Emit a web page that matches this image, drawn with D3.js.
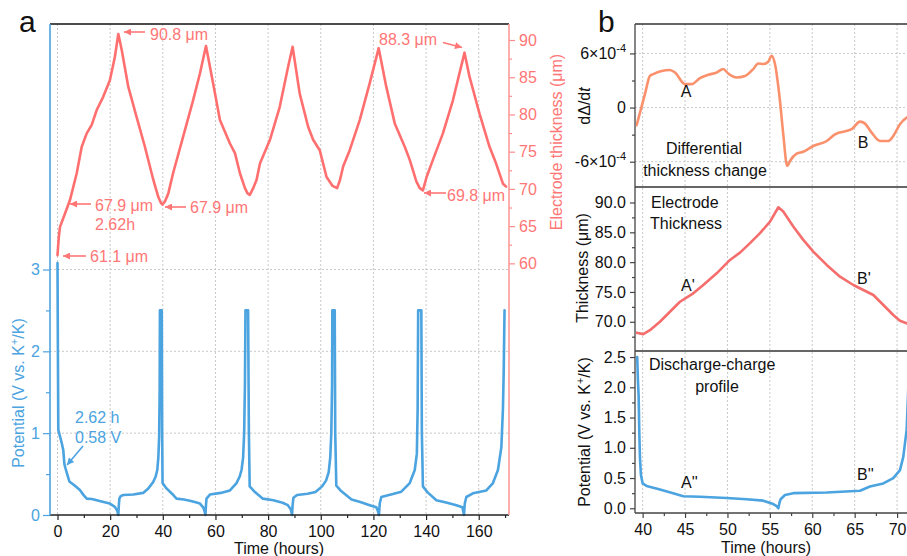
<!doctype html>
<html lang="en">
<head>
<meta charset="utf-8">
<title>Electrode thickness and potential</title>
<script src="https://d3js.org/d3.v7.min.js"></script>
<style>
  body { margin: 0; background: #fff; }
  svg { font-family: "Liberation Sans", Arial, sans-serif; }
  .grid line { stroke: #c8c8c8; stroke-dasharray: 2,2; stroke-width: 1; }
  .curve { fill: none; stroke-linejoin: round; stroke-linecap: round; }
</style>
</head>
<body>
<svg id="chart" width="907" height="556"></svg>
<script>
// ---- panel a: potential (V) vs time (h)
const potentialA = [
  [0, 3.08], [0.15, 2.0], [0.3, 1.04], [0.95, 0.96], [1.6, 0.88], [2.2, 0.79], [2.62, 0.62], [3.2, 0.55],
  [4.5, 0.41], [6.5, 0.36], [8.5, 0.305], [10, 0.24], [11.1, 0.2], [13, 0.195], [14.9, 0.18], [17.5, 0.16],
  [19.9, 0.14], [21.8, 0.1], [22.7, 0.05], [23.1, 0.0],
  [23.3, 0.12], [23.5, 0.2], [24, 0.23], [25, 0.245], [28.8, 0.25], [32.5, 0.27], [34.5, 0.325], [36.3, 0.4],
  [37.3, 0.47], [37.9, 0.55], [38.3, 0.7], [38.6, 0.95], [38.8, 1.5], [38.9, 2.5], [39.6, 2.5], [39.75, 1.0], [39.9, 0.39],
  [41.4, 0.325], [43.5, 0.26], [45.2, 0.2], [48, 0.19], [50.3, 0.175], [52.5, 0.155], [54.1, 0.14], [55.4, 0.09],
  [55.9, 0.04], [56.2, 0.0],
  [56.4, 0.12], [56.6, 0.2], [57.9, 0.25], [62, 0.27], [65.5, 0.3], [68, 0.39], [69.2, 0.47], [69.9, 0.55],
  [70.5, 0.7], [70.9, 1.0], [71.2, 1.6], [71.4, 2.5], [72.4, 2.5], [72.7, 1.0], [73.0, 0.35],
  [75, 0.28], [78, 0.2], [82, 0.18], [85.5, 0.15], [87.5, 0.12], [88.6, 0.07], [89.1, 0.0],
  [89.3, 0.12], [89.6, 0.21], [91, 0.245], [95, 0.26], [98, 0.28], [100.5, 0.35], [102, 0.42], [103, 0.52],
  [103.6, 0.7], [104, 1.0], [104.3, 1.6], [104.4, 2.5], [105.3, 2.5], [105.5, 1.0], [105.9, 0.36],
  [107.5, 0.3], [111.7, 0.19], [115, 0.16], [118.6, 0.12], [121.1, 0.094], [121.7, 0.05], [122.1, 0.0],
  [122.4, 0.14], [123, 0.22], [127.4, 0.256], [130.6, 0.285], [133.8, 0.39], [135.7, 0.55], [136.5, 0.75],
  [136.8, 1.3], [137.0, 2.5], [138.2, 2.5], [138.4, 1.0], [138.8, 0.35],
  [140.5, 0.28], [143.9, 0.18], [148, 0.15], [151.5, 0.12], [153.8, 0.094], [154.1, 0.05], [154.4, 0.0],
  [154.7, 0.14], [155.3, 0.22], [157.8, 0.265], [162.9, 0.3], [165.4, 0.39], [167.3, 0.55], [168.6, 0.83],
  [169.2, 1.3], [169.5, 1.77], [169.8, 2.5]
];

// ---- panel a: electrode thickness (um) vs time (h)
const thicknessA = [
  [0, 61.1], [0.5, 63.6], [0.95, 64.9], [2.85, 66.7], [4.74, 68.5], [7.3, 72.1], [9.2, 75.66], [11.1, 77.46], [13.0, 78.6],
  [14.9, 80.6], [17.4, 82.4], [19.9, 84.6], [21.8, 87.76], [23.1, 90.8], [24.4, 88.66], [26.9, 83.7],
  [30.0, 79.7], [33.2, 75.66], [36.4, 71.2], [38.3, 68.9], [39.3, 68.1], [39.9, 67.9], [40.8, 68.3], [42.1, 69.4], [43.9, 72.1],
  [47.7, 77.0], [51.5, 81.9], [54.1, 85.5], [56.4, 89.2], [59.1, 84.2], [61.7, 79.25], [65.5, 76.1],
  [67.4, 74.8], [69.3, 72.1], [71.2, 70.1], [72.2, 69.4], [73.05, 69.2], [74.2, 70.0], [75.6, 71.2], [76.9, 73.4], [80.7, 76.6],
  [84.4, 81.0], [87.6, 86.4], [89.3, 89.1], [92.0, 82.8], [95.2, 78.35], [97.1, 76.6], [99.6, 75.2],
  [102.2, 71.6], [104.5, 70.4], [106.2, 70.1], [107.3, 71.2], [108.5, 73.0], [111.0, 75.2], [114.8, 79.25], [118.6, 84.2], [122.0, 88.9],
  [124.9, 83.7], [128.1, 78.8], [131.9, 75.66], [133.8, 73.9], [136.3, 71.0], [137.6, 70.1], [138.8, 69.8], [140.2, 71.6], [142.6, 73.9],
  [146.4, 77.46], [150.2, 81.9], [154.6, 88.3], [156.5, 85.07], [160.3, 80.1], [164.1, 75.66],
  [166.6, 73.4], [169.2, 70.7], [170.4, 70.3]
];

// ---- panel b: differential thickness change (dΔ/dt), values x1e-4
const derivB = [
  [39.29, -1.96], [40.3, 1.6], [40.86, 3.52], [41.25, 3.71], [43.22, 4.16], [43.81, 3.89], [44.99, 2.6],
  [45.78, 2.6], [46.76, 3.27], [47.74, 3.63], [48.73, 3.89], [49.5, 4.27], [50.09, 3.78], [51.08, 3.33],
  [52.06, 3.49], [53.04, 4.27], [53.63, 4.89], [54.22, 4.82], [54.81, 5.08], [55.21, 5.74], [55.6, 4.82],
  [56.19, 0.74], [56.58, -2.96], [57.05, -6.48], [57.37, -5.92], [58.16, -5.11], [58.94, -4.89],
  [60.12, -4.26], [61.7, -3.7], [62.68, -2.96], [64.65, -2.4], [65.63, -1.56], [66.22, -1.78],
  [67.0, -2.78], [68.0, -3.7], [68.96, -3.7], [69.55, -3.14], [70.34, -1.84], [71.13, -1.11], [71.8, -0.9]
];

// ---- panel b: electrode thickness (um)
const thicknessB = [
  [39.29, 68.15], [40.07, 67.93], [40.86, 68.6], [42.04, 70.0], [43.22, 71.68], [44.4, 73.36],
  [45.97, 74.77], [47.15, 76.17], [48.73, 78.13], [50.3, 80.37], [51.48, 81.6], [52.66, 83.18],
  [53.84, 84.86], [55.02, 86.8], [56.0, 89.2], [56.58, 88.5], [57.76, 85.97], [58.94, 83.73],
  [60.12, 81.76], [61.7, 79.53], [63.27, 77.56], [64.84, 76.17], [66.02, 75.33], [67.2, 74.49],
  [68.38, 72.81], [69.55, 71.13], [70.34, 70.17], [71.13, 69.73], [71.8, 69.5]
];

// ---- panel b: discharge-charge profile (V)
const potentialB = [
  [39.36, 2.5], [39.45, 2.1], [39.53, 1.85], [39.6, 1.3], [39.68, 0.85], [39.8, 0.55], [40.0, 0.41],
  [40.47, 0.37], [42.04, 0.31], [43.6, 0.25], [44.79, 0.2], [46.76, 0.19], [49.9, 0.17], [52.26, 0.15],
  [54.22, 0.126], [55.4, 0.07], [55.8, 0.035], [56.0, 0.0], [56.15, 0.1], [56.27, 0.15], [56.78, 0.22],
  [57.76, 0.25], [61.7, 0.26], [65.63, 0.29], [66.8, 0.36], [68.38, 0.41], [69.55, 0.5], [70.34, 0.63],
  [70.73, 0.85], [71.13, 1.3], [71.3, 1.9], [71.45, 2.5]
];

// ticks
const timeTicksA = [0, 20, 40, 60, 80, 100, 120, 140, 160];
const timeMinorA = [10, 30, 50, 70, 90, 110, 130, 150, 170];
const potTicksA = [0, 1, 2, 3];
const potMinorA = [0.5, 1.5, 2.5];
const thickTicksA = [60, 65, 70, 75, 80, 85, 90];
const thickMinorA = [62.5, 67.5, 72.5, 77.5, 82.5, 87.5];
const timeTicksB = [40, 45, 50, 55, 60, 65, 70];
const timeMinorB = [42.5, 47.5, 52.5, 57.5, 62.5, 67.5];
const derivTicksB = [-6, 0, 6];
const derivMinorB = [-3, 3];
const thickTicksB = [70, 75, 80, 85, 90];
const thickMinorB = [67.5, 72.5, 77.5, 82.5, 87.5];
const potTicksB = [0, 0.5, 1, 1.5, 2, 2.5];
const potMinorB = [0.25, 0.75, 1.25, 1.75, 2.25];

const blue = '#4ba3e0';
const red = '#ff6f6f';
const redText = '#ff7676';
const orange = '#fa916c';
const redB = '#f56d6d';

const svg = d3.select('#chart');

// arrow markers
const defs = svg.append('defs');
[['arrRed', redText], ['arrBlue', blue]].forEach(([id, c]) => {
  defs.append('marker')
    .attr('id', id)
    .attr('viewBox', '0 0 10 10')
    .attr('refX', 10).attr('refY', 5)
    .attr('markerWidth', 9).attr('markerHeight', 7)
    .attr('markerUnits', 'userSpaceOnUse')
    .attr('orient', 'auto')
    .append('path')
    .attr('d', 'M0,0 L10,5 L0,10 z')
    .attr('fill', c);
});

function styleAxis(g, color, textColor) {
  g.select('.domain').remove();
  g.selectAll('line').attr('stroke', color).attr('stroke-width', 1.2);
  g.selectAll('text').attr('fill', textColor).attr('font-size', 16)
    .attr('font-family', '"Liberation Sans", Arial, sans-serif');
}

// ================= panel a =================
const xA = d3.scaleLinear().domain([-2.85, 171.5]).range([50, 509]);
const yPot = d3.scaleLinear().domain([0, 6]).range([515, 24]);
const yTh = d3.scaleLinear().domain([26.2, 92.15]).range([515, 24]);

const gA = svg.append('g');

// grid
gA.append('g').attr('class', 'grid')
  .selectAll('line').data(timeTicksA).join('line')
  .attr('x1', d => xA(d)).attr('x2', d => xA(d))
  .attr('y1', 24).attr('y2', 515);
gA.append('g').attr('class', 'grid')
  .selectAll('line').data(potTicksA.slice(1)).join('line')
  .attr('x1', 50).attr('x2', 509)
  .attr('y1', d => yPot(d)).attr('y2', d => yPot(d));

// curves
gA.append('path').datum(potentialA)
  .attr('class', 'curve')
  .attr('stroke', blue).attr('stroke-width', 2.6)
  .attr('d', d3.line().x(d => xA(d[0])).y(d => yPot(d[1])));

gA.append('path').datum(thicknessA)
  .attr('class', 'curve')
  .attr('stroke', red).attr('stroke-width', 2.6)
  .attr('d', d3.line().x(d => xA(d[0])).y(d => yTh(d[1])));

// axes
gA.append('g').attr('transform', 'translate(0,515)')
  .call(d3.axisBottom(xA).tickValues(timeTicksA).tickSize(5).tickPadding(6).tickFormat(d3.format('d')))
  .call(g => styleAxis(g, '#222', '#111'));
gA.append('g').attr('transform', 'translate(0,515)')
  .call(d3.axisBottom(xA).tickValues(timeMinorA).tickSize(3).tickFormat(''))
  .call(g => styleAxis(g, '#222', '#111'));

gA.append('g').attr('transform', 'translate(50,0)')
  .call(d3.axisLeft(yPot).tickValues(potTicksA).tickSize(7).tickPadding(3).tickFormat(d3.format('d')))
  .call(g => styleAxis(g, blue, blue));
gA.append('g').attr('transform', 'translate(50,0)')
  .call(d3.axisLeft(yPot).tickValues(potMinorA).tickSize(4).tickFormat(''))
  .call(g => styleAxis(g, blue, blue));

gA.append('g').attr('transform', 'translate(509,0)')
  .call(d3.axisRight(yTh).tickValues(thickTicksA).tickSize(6).tickPadding(4).tickFormat(d3.format('d')))
  .call(g => styleAxis(g, '#ff8c8c', redText));
gA.append('g').attr('transform', 'translate(509,0)')
  .call(d3.axisRight(yTh).tickValues(thickMinorA).tickSize(3).tickFormat(''))
  .call(g => styleAxis(g, '#ff8c8c', redText));

// frame lines
gA.append('line').attr('x1', 50).attr('x2', 509).attr('y1', 24).attr('y2', 24)
  .attr('stroke', '#111').attr('stroke-width', 1.3);
gA.append('line').attr('x1', 50).attr('x2', 509).attr('y1', 515).attr('y2', 515)
  .attr('stroke', '#222').attr('stroke-width', 1.3);
gA.append('line').attr('x1', 50).attr('x2', 50).attr('y1', 24).attr('y2', 515)
  .attr('stroke', blue).attr('stroke-width', 1.6);
gA.append('line').attr('x1', 509).attr('x2', 509).attr('y1', 24).attr('y2', 515)
  .attr('stroke', '#ff9a9a').attr('stroke-width', 1.6);

// titles
svg.append('text').attr('x', 19).attr('y', 32).attr('font-size', 30).attr('fill', '#111').text('a');
svg.append('text').attr('x', 279).attr('y', 554).attr('text-anchor', 'middle')
  .attr('font-size', 16).attr('fill', '#111').text('Time (hours)');

const potLabel = svg.append('text')
  .attr('transform', 'translate(24,393) rotate(-90)')
  .attr('text-anchor', 'middle').attr('font-size', 16).attr('fill', blue);
potLabel.append('tspan').text('Potential (V vs. K');
potLabel.append('tspan').attr('dy', -6).attr('font-size', 11).text('+');
potLabel.append('tspan').attr('dy', 6).text('/K)');

svg.append('text')
  .attr('transform', 'translate(562,142) rotate(-90)')
  .attr('text-anchor', 'middle').attr('font-size', 16).attr('fill', redText)
  .text('Electrode thickness (μm)');

// annotations
const notesA = [
  { text: '90.8 μm', x: 150, y: 40, c: redText },
  { text: '67.9 μm', x: 95, y: 211, c: redText },
  { text: '2.62h', x: 95, y: 230, c: redText },
  { text: '67.9 μm', x: 190, y: 213, c: redText },
  { text: '61.1 μm', x: 90, y: 262, c: redText },
  { text: '88.3 μm', x: 379, y: 45, c: redText },
  { text: '69.8 μm', x: 447, y: 201, c: redText },
  { text: '2.62 h', x: 75, y: 423, c: blue },
  { text: '0.58 V', x: 75, y: 443, c: blue }
];
svg.append('g').selectAll('text').data(notesA).join('text')
  .attr('x', d => d.x).attr('y', d => d.y)
  .attr('font-size', 16).attr('fill', d => d.c)
  .text(d => d.text);

const arrowsA = [
  { x1: 145, y1: 32, x2: 124, y2: 32, m: 'arrRed', c: redText },
  { x1: 91, y1: 204, x2: 70, y2: 204, m: 'arrRed', c: redText },
  { x1: 186, y1: 207, x2: 165, y2: 207, m: 'arrRed', c: redText },
  { x1: 86, y1: 256, x2: 63, y2: 256, m: 'arrRed', c: redText },
  { x1: 443, y1: 42.5, x2: 462, y2: 47.5, m: 'arrRed', c: redText },
  { x1: 446, y1: 193, x2: 424, y2: 193, m: 'arrRed', c: redText },
  { x1: 83, y1: 446, x2: 67, y2: 465, m: 'arrBlue', c: blue }
];
svg.append('g').selectAll('line').data(arrowsA).join('line')
  .attr('x1', d => d.x1).attr('y1', d => d.y1)
  .attr('x2', d => d.x2).attr('y2', d => d.y2)
  .attr('stroke', d => d.c).attr('stroke-width', 1.6)
  .attr('marker-end', d => `url(#${d.m})`);

// ================= panel b =================
const xB = d3.scaleLinear().domain([39.1, 72.3]).range([635, 916.6]);
const yD = d3.scaleLinear().domain([-8.8, 9.26]).range([187, 24]);
const yThB = d3.scaleLinear().domain([65.1, 92.6]).range([351, 187]);
const yPotB = d3.scaleLinear().domain([-0.078, 2.6]).range([513, 351]);

const gB = svg.append('g');

defs.append('clipPath').attr('id', 'clipB')
  .append('rect').attr('x', 636).attr('y', 24).attr('width', 300).attr('height', 490);

// vertical grid
gB.append('g').attr('class', 'grid')
  .selectAll('line').data(timeTicksB).join('line')
  .attr('x1', d => xB(d)).attr('x2', d => xB(d))
  .attr('y1', 24).attr('y2', 513);
// horizontal grid (top panel only)
gB.append('g').attr('class', 'grid')
  .selectAll('line').data(derivTicksB).join('line')
  .attr('x1', 635).attr('x2', 907)
  .attr('y1', d => yD(d)).attr('y2', d => yD(d));

const curves = gB.append('g').attr('clip-path', 'url(#clipB)');
curves.append('path').datum(derivB)
  .attr('class', 'curve').attr('stroke', orange).attr('stroke-width', 2.6)
  .attr('d', d3.line().curve(d3.curveMonotoneX).x(d => xB(d[0])).y(d => yD(d[1])));
curves.append('path').datum(thicknessB)
  .attr('class', 'curve').attr('stroke', redB).attr('stroke-width', 2.6)
  .attr('d', d3.line().x(d => xB(d[0])).y(d => yThB(d[1])));
curves.append('path').datum(potentialB)
  .attr('class', 'curve').attr('stroke', blue).attr('stroke-width', 2.6)
  .attr('d', d3.line().x(d => xB(d[0])).y(d => yPotB(d[1])));

// separators and frame
[24, 187, 351].forEach(y => {
  gB.append('line').attr('x1', 635).attr('x2', 907).attr('y1', y).attr('y2', y)
    .attr('stroke', '#333').attr('stroke-width', 1.3);
});
gB.append('line').attr('x1', 635).attr('x2', 907).attr('y1', 513).attr('y2', 513)
  .attr('stroke', '#444').attr('stroke-width', 1.3);
gB.append('line').attr('x1', 635).attr('x2', 635).attr('y1', 24).attr('y2', 513)
  .attr('stroke', '#444').attr('stroke-width', 1.3);

// axes
gB.append('g').attr('transform', 'translate(0,513)')
  .call(d3.axisBottom(xB).tickValues(timeTicksB).tickSize(5).tickPadding(6).tickFormat(d3.format('d')))
  .call(g => styleAxis(g, '#444', '#111'));
gB.append('g').attr('transform', 'translate(0,513)')
  .call(d3.axisBottom(xB).tickValues(timeMinorB).tickSize(3).tickFormat(''))
  .call(g => styleAxis(g, '#444', '#111'));

const dAxis = gB.append('g').attr('transform', 'translate(635,0)')
  .call(d3.axisLeft(yD).tickValues(derivTicksB).tickSize(5).tickPadding(4))
  .call(g => styleAxis(g, '#444', '#111'));
dAxis.selectAll('.tick text').each(function (d) {
  const t = d3.select(this);
  t.text(null);
  if (d === 0) { t.text('0'); return; }
  t.append('tspan').text((d < 0 ? '-' : '') + Math.abs(d) + '×10');
  t.append('tspan').attr('dy', -7).attr('font-size', 11).text('-4');
});
gB.append('g').attr('transform', 'translate(635,0)')
  .call(d3.axisLeft(yD).tickValues(derivMinorB).tickSize(3).tickFormat(''))
  .call(g => styleAxis(g, '#444', '#111'));

gB.append('g').attr('transform', 'translate(635,0)')
  .call(d3.axisLeft(yThB).tickValues(thickTicksB).tickSize(5).tickPadding(4).tickFormat(d3.format('.1f')))
  .call(g => styleAxis(g, '#444', '#111'));
gB.append('g').attr('transform', 'translate(635,0)')
  .call(d3.axisLeft(yThB).tickValues(thickMinorB).tickSize(3).tickFormat(''))
  .call(g => styleAxis(g, '#444', '#111'));

gB.append('g').attr('transform', 'translate(635,0)')
  .call(d3.axisLeft(yPotB).tickValues(potTicksB).tickSize(5).tickPadding(4).tickFormat(d3.format('.1f')))
  .call(g => styleAxis(g, '#444', '#111'));
gB.append('g').attr('transform', 'translate(635,0)')
  .call(d3.axisLeft(yPotB).tickValues(potMinorB).tickSize(3).tickFormat(''))
  .call(g => styleAxis(g, '#444', '#111'));

// titles
svg.append('text').attr('x', 598).attr('y', 32).attr('font-size', 30).attr('fill', '#111').text('b');
svg.append('text').attr('x', 766).attr('y', 553).attr('text-anchor', 'middle')
  .attr('font-size', 16).attr('fill', '#111').text('Time (hours)');

const dLabel = svg.append('text')
  .attr('transform', 'translate(590,106) rotate(-90)')
  .attr('text-anchor', 'middle').attr('font-size', 16).attr('fill', '#111');
dLabel.append('tspan').text('dΔ/d');
dLabel.append('tspan').attr('font-style', 'italic').text('t');

svg.append('text')
  .attr('transform', 'translate(588,268) rotate(-90)')
  .attr('text-anchor', 'middle').attr('font-size', 16).attr('fill', '#111')
  .text('Thickness (μm)');

const potLabelB = svg.append('text')
  .attr('transform', 'translate(590,432) rotate(-90)')
  .attr('text-anchor', 'middle').attr('font-size', 16).attr('fill', '#111');
potLabelB.append('tspan').text('Potential (V vs. K');
potLabelB.append('tspan').attr('dy', -6).attr('font-size', 11).text('+');
potLabelB.append('tspan').attr('dy', 6).text('/K)');

const notesB = [
  { text: 'Differential', x: 704, y: 154, a: 'middle' },
  { text: 'thickness change', x: 705, y: 176, a: 'middle' },
  { text: 'A', x: 686, y: 97, a: 'middle' },
  { text: 'B', x: 863, y: 148, a: 'middle' },
  { text: 'Electrode', x: 651, y: 208, a: 'start' },
  { text: 'Thickness', x: 650, y: 229, a: 'start' },
  { text: "A'", x: 681, y: 291, a: 'start' },
  { text: "B'", x: 857, y: 284, a: 'start' },
  { text: 'Discharge-charge', x: 649, y: 370, a: 'start' },
  { text: 'profile', x: 717, y: 392, a: 'middle' },
  { text: "A''", x: 681, y: 488, a: 'start' },
  { text: "B''", x: 857, y: 480, a: 'start' }
];
svg.append('g').selectAll('text').data(notesB).join('text')
  .attr('x', d => d.x).attr('y', d => d.y)
  .attr('text-anchor', d => d.a)
  .attr('font-size', 16).attr('fill', '#111')
  .text(d => d.text);
</script>
</body>
</html>
